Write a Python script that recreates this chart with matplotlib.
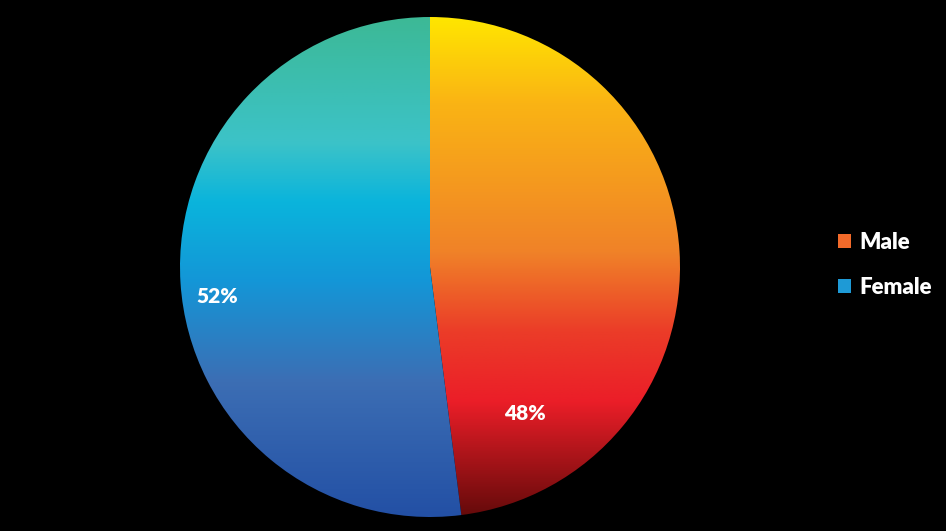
import numpy as np
import matplotlib
matplotlib.use('Agg')
import matplotlib.pyplot as plt
from matplotlib.colors import LinearSegmentedColormap
from matplotlib.patches import Patch

# data
labels = ['Male', 'Female']
shares = [48, 52]

# vertical gradients, top -> bottom
male_stops = ['#ffe600', '#fab414', '#f08228', '#eb3c28', '#eb1e28', '#640a0a']
male_pos = [0.0, 0.17, 0.47, 0.63, 0.77, 1.0]
female_stops = ['#3cb996', '#3cc3c8', '#0ab4dc', '#1496d7', '#3c6eb4', '#2350a5']
female_pos = [0.0, 0.25, 0.37, 0.53, 0.73, 1.0]
label_pos = [(-57, 0.70), (188, 0.86)]  # (angle deg, radius fraction)

W, H = 946, 531
fig = plt.figure(figsize=(W / 100, H / 100), dpi=100, facecolor='black')
ax = fig.add_axes([0, 0, 1, 1])
ax.set_facecolor('black')

cx, cy, r = 430, H - 267, 250
wedges, _ = ax.pie(shares, startangle=90, counterclock=False, center=(cx, cy),
                   radius=r, wedgeprops=dict(linewidth=0))
ax.set_xlim(0, W)
ax.set_ylim(0, H)
ax.set_aspect('equal')
ax.axis('off')

grad = np.linspace(0, 1, 256).reshape(-1, 1)
for w, stops, pos in zip(wedges, [male_stops, female_stops], [male_pos, female_pos]):
    cmap = LinearSegmentedColormap.from_list('g', list(zip(pos, stops)))
    w.set_facecolor('none')
    im = ax.imshow(grad, cmap=cmap, aspect='auto', origin='upper',
                   extent=(cx - r, cx + r, cy - r, cy + r), zorder=1)
    im.set_clip_path(w)

for (ang, f), s in zip(label_pos, shares):
    a = np.deg2rad(ang)
    ax.text(cx + f * r * np.cos(a), cy + f * r * np.sin(a), f'{s}%',
            color='white', fontsize=15, fontweight='heavy', family='Lato',
            ha='center', va='center', zorder=3)

ax.set_xlim(0, W)
ax.set_ylim(0, H)

handles = [Patch(facecolor='#f26a2a'), Patch(facecolor='#1e9ad6')]
leg = ax.legend(handles, labels, loc='center left', bbox_to_anchor=(818 / W, 1 - 265 / H),
                frameon=False, handlelength=0.6, handleheight=0.6, handletextpad=0.35,
                labelspacing=1.1, prop=dict(family='Lato', weight='heavy', size=16))
for t in leg.get_texts():
    t.set_color('white')

fig.savefig('out.png', dpi=100, facecolor='black')
